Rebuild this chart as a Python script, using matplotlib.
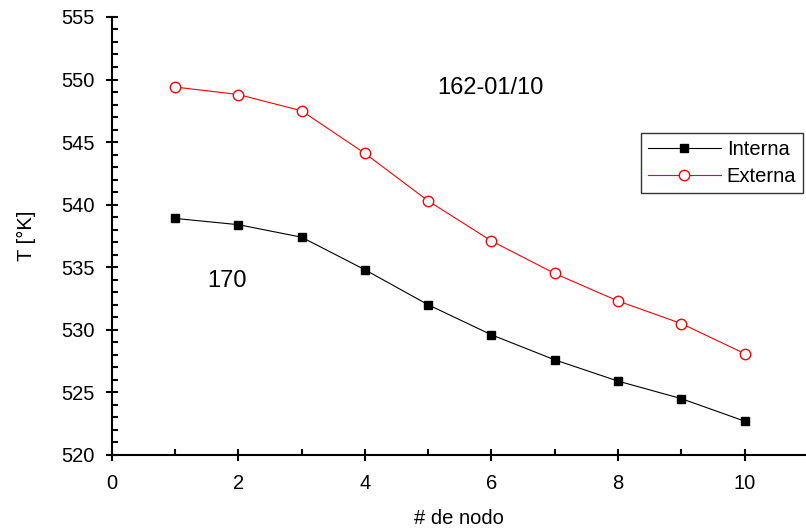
import matplotlib
matplotlib.use('Agg')
import matplotlib.pyplot as plt
from matplotlib.ticker import MultipleLocator

plt.rcParams['font.family'] = ['Liberation Sans', 'DejaVu Sans']

nodo = [1, 2, 3, 4, 5, 6, 7, 8, 9, 10]
interna = [538.9, 538.4, 537.4, 534.8, 532.0, 529.6, 527.6, 525.9, 524.5, 522.7]
externa = [549.4, 548.8, 547.5, 544.1, 540.3, 537.1, 534.5, 532.3, 530.5, 528.1]

fig = plt.figure(figsize=(8.06, 5.29), dpi=100)
ax = fig.add_axes([0.1386, 0.140, 0.8614, 0.828])

ax.plot(nodo, interna, color='black', lw=0.8, marker='s', ms=6,
        mfc='black', mec='black', label='Interna')
ax.plot(nodo, externa, color='red', lw=0.8, marker='o', ms=7.5,
        mfc='white', mec='red', mew=1.0, label='Externa')

ax.set_xlim(0, 10.97)
ax.set_ylim(520, 555)
ax.xaxis.set_major_locator(MultipleLocator(2))
ax.xaxis.set_minor_locator(MultipleLocator(1))
ax.yaxis.set_major_locator(MultipleLocator(5))
ax.yaxis.set_minor_locator(MultipleLocator(1))

for s in ['top', 'right']:
    ax.spines[s].set_visible(False)
for s in ['left', 'bottom']:
    ax.spines[s].set_linewidth(1.5)

ax.tick_params(which='major', direction='inout', length=9, width=1.5,
               labelsize=14.5)
ax.tick_params(axis='y', which='major', pad=8)
ax.tick_params(axis='x', which='major', pad=9)
ax.tick_params(which='minor', direction='in', length=4, width=1.5)

ax.set_xlabel('# de nodo', fontsize=14.5, labelpad=12)
ax.set_ylabel('T [°K]', fontsize=14.5, labelpad=18)

ax.text(1.82, 533.9, '170', fontsize=17, ha='center', va='center')
ax.text(5.98, 549.3, '162-01/10', fontsize=17, ha='center', va='center')

leg = ax.legend(loc='upper right', bbox_to_anchor=(0.996, 0.735), fontsize=14.5,
                frameon=True, fancybox=False, borderaxespad=0, handlelength=3.6,
                handletextpad=0.3, borderpad=0.35, labelspacing=0.4)
leg.get_frame().set_edgecolor('black')
leg.get_frame().set_linewidth(1.0)

fig.savefig('out.png', dpi=100)
